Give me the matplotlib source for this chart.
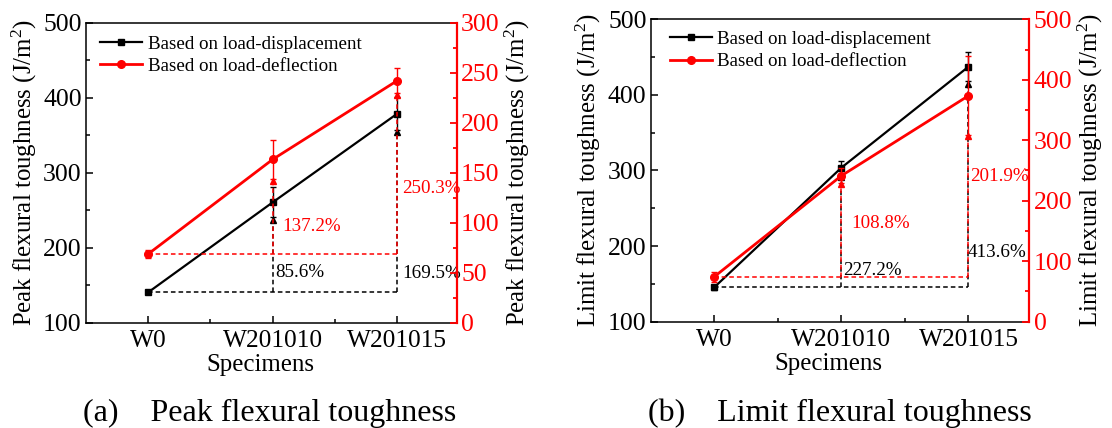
import matplotlib
matplotlib.use("Agg")
import matplotlib.pyplot as plt
from matplotlib.lines import Line2D
import numpy as np

plt.rcParams['font.family'] = ['Liberation Serif', 'DejaVu Serif']
plt.rcParams['mathtext.fontset'] = 'custom'
plt.rcParams['mathtext.rm'] = 'Liberation Serif'
plt.rcParams['mathtext.default'] = 'regular'

specimens = ["W0", "W201010", "W201015"]

# Panel (a) peak flexural toughness
peak_disp = [140.5, 260.5, 378.6]
peak_disp_err = [2, 20, 22]
peak_defl = [68.7, 163.3, 242.0]
peak_defl_err = [4, 19.5, 12.5]
peak_disp_pct = ["85.6%", "169.5%"]
peak_defl_pct = ["137.2%", "250.3%"]
peak_disp_pct_y = [167, 166]
peak_defl_pct_y = [96, 134]

# Panel (b) limit flexural toughness
lim_disp = [145.5, 303.7, 437.3]
lim_disp_err = [3, 9, 19.5]
lim_defl = [74.4, 241.3, 373.6]
lim_defl_err = [8, 12, 65]
lim_disp_pct = ["227.2%", "413.6%"]
lim_defl_pct = ["108.8%", "201.9%"]
lim_disp_pct_y = [168, 192]
lim_defl_pct_y = [163, 240]

fig = plt.figure(figsize=(11.12, 4.28), dpi=100)

RED = '#ff0000'
TXT = 13.7


def panel(rect, disp, disp_err, defl, defl_err, rlim, rmaj, rmin, ylab,
          dpct, dpct_y, rpct, rpct_y, dpct_dx, rpct_dx, leg_anchor, caption, cap_x,
          lpad, rpad):
    ax = fig.add_axes(rect)
    x = np.arange(len(specimens))
    ax2 = ax.twinx()

    # black series
    ax.errorbar(x, disp, yerr=disp_err, color='black', marker='s', ms=5,
                lw=1.6, elinewidth=1, capsize=2.5, capthick=1, zorder=3)
    ax.plot([x[0], x[-1]], [disp[0], disp[0]], ls=(0, (3, 2)), color='black', lw=1.1)
    for i in (1, 2):
        tip = disp[i] - disp_err[i]
        ax.plot([x[i], x[i]], [disp[0], tip], ls=(0, (3, 2)), color='black', lw=1.1)
        ax.plot([x[i]], [tip - 3], marker='^', color='black', ms=5, ls='none')
    for i, (t, yy) in enumerate(zip(dpct, dpct_y)):
        ax.text(x[i + 1] + dpct_dx[i], yy, t, color='black', fontsize=TXT,
                ha='left', va='center')

    # red series
    ax2.errorbar(x, defl, yerr=defl_err, color=RED, marker='o', ms=5.5,
                 lw=2, elinewidth=1, capsize=2.5, capthick=1, zorder=3)
    ax2.plot([x[0], x[-1]], [defl[0], defl[0]], ls=(0, (3, 2)), color=RED, lw=1.1)
    for i in (1, 2):
        tip = defl[i] - defl_err[i]
        ax2.plot([x[i], x[i]], [defl[0], tip], ls=(0, (3, 2)), color=RED, lw=1.1)
        ax2.plot([x[i]], [tip - 2], marker='^', color=RED, ms=5, ls='none')
    for i, (t, yy) in enumerate(zip(rpct, rpct_y)):
        ax2.text(x[i + 1] + rpct_dx[i], yy, t, color=RED, fontsize=TXT,
                 ha='left', va='center')

    ax.set_xlim(-0.5, 2.48)
    ax.set_ylim(100, 500)
    ax.set_yticks([100, 200, 300, 400, 500])
    ax.set_yticks([150, 250, 350, 450], minor=True)
    ax.set_xticks(x)
    ax.set_xticklabels(specimens)
    ax.set_xticks([0.5, 1.5], minor=True)
    ax2.set_ylim(*rlim)
    ax2.set_yticks(rmaj)
    ax2.set_yticks(rmin, minor=True)

    ax.tick_params(axis='both', which='both', direction='in', top=False, right=False)
    ax.tick_params(axis='y', which='major', length=5, width=1.1, labelsize=18.5, pad=3)
    ax.tick_params(axis='y', which='minor', length=3, width=1.1)
    ax.tick_params(axis='x', which='major', length=5, width=1.1, labelsize=18.3, pad=5)
    ax.tick_params(axis='x', which='minor', length=3, width=1.1)
    ax2.tick_params(axis='y', which='both', direction='in', colors=RED, width=1.3)
    ax2.tick_params(axis='y', which='major', length=5, labelsize=18.5, pad=3)
    ax2.tick_params(axis='y', which='minor', length=3)

    for s in ax.spines.values():
        s.set_linewidth(1.1)
    for k in ('left', 'top', 'bottom'):
        ax2.spines[k].set_visible(False)
    ax2.spines['right'].set_color(RED)
    ax2.spines['right'].set_linewidth(1.6)

    ax.set_ylabel(ylab, fontsize=17.9, labelpad=lpad)
    ax2.set_ylabel(ylab, fontsize=17.9, labelpad=rpad, color='black')
    ax.set_xlabel('Specimens', fontsize=17.9, labelpad=0)
    ax.xaxis.set_label_coords(0.47, -0.105)

    handles = [Line2D([], [], color='black', marker='s', ms=5, lw=1.6),
               Line2D([], [], color=RED, marker='o', ms=5.5, lw=2)]
    labels = ['Based on load-displacement', 'Based on load-deflection']
    ax2.legend(handles, labels, loc='upper left', bbox_to_anchor=leg_anchor,
               frameon=False, fontsize=TXT, handlelength=2.2,
               handletextpad=0.3, labelspacing=0.25, borderpad=0,
               borderaxespad=0, numpoints=1)

    fig.text(cap_x, 0.0164, caption, fontsize=23, ha='center', va='baseline')
    return ax, ax2


panel([0.0773, 0.246, 0.3336, 0.701], peak_disp, peak_disp_err,
      peak_defl, peak_defl_err, (0, 300), [0, 50, 100, 150, 200, 250, 300],
      [25, 75, 125, 175, 225, 275],
      'Peak flexural toughness (J/m$^2$)',
      peak_disp_pct, peak_disp_pct_y, peak_defl_pct, peak_defl_pct_y,
      [0.023, 0.038], [0.075, 0.043], (0.038, 0.958),
      '(a)    Peak flexural toughness', 0.2425, 3, 2.5)

panel([0.5852, 0.2484, 0.3406, 0.7065], lim_disp, lim_disp_err,
      lim_defl, lim_defl_err, (0, 500), [0, 100, 200, 300, 400, 500],
      [50, 150, 250, 350, 450],
      'Limit flexural toughness (J/m$^2$)',
      lim_disp_pct, lim_disp_pct_y, lim_defl_pct, lim_defl_pct_y,
      [0.017, -0.01], [0.081, 0.014], (0.05, 0.962),
      '(b)    Limit flexural toughness', 0.7554, 3.5, 2.5)

fig.savefig('out.png', dpi=100)
